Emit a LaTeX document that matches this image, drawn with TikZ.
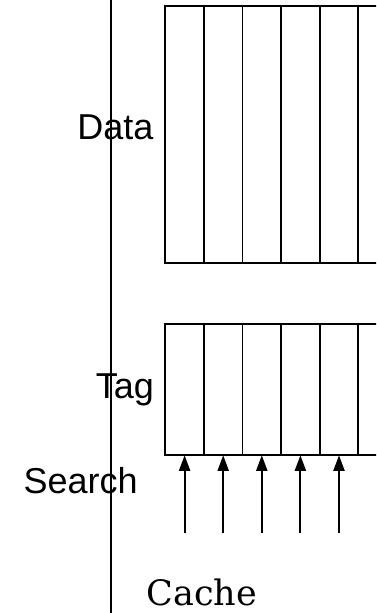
\documentclass[tikz,border=0pt]{standalone}
\usepackage{fontspec}
\setmainfont{Liberation Sans}
\newfontfamily\captionserif{DejaVu Serif}
\usetikzlibrary{arrows.meta}
\begin{document}
\begin{tikzpicture}[x=1pt,y=1pt,
  cellline/.style={line width=1.7pt},
  divider/.style={line width=2pt},
  searchline/.style={line width=1.9pt,-{Triangle[length=15.5pt,width=11pt]}},
  lbl/.style={inner sep=0pt,font=\fontsize{36}{40}\selectfont},
  caplbl/.style={inner sep=0pt,text depth=0pt,font=\captionserif\fontsize{35}{40}\selectfont}]
\useasboundingbox (0,0) rectangle (376,613);
\begin{scope}
\clip (0,0) rectangle (376,613);
% vertical divider
\coordinate (divtop) at (110.7,613);
\coordinate (divbot) at (110.7,0);
\draw[divider] (divbot) -- (divtop);
% data array
\draw[cellline] (400,607.3) -- (165.3,607.3) -- (165.3,350) -- (400,350);
\foreach \i in {1,...,5}
  \draw[cellline] ({165.3+38.6*\i},607.3) -- ({165.3+38.6*\i},350);
% tag array
\draw[cellline] (400,289) -- (165.3,289) -- (165.3,157.7) -- (400,157.7);
\foreach \i in {1,...,5}
  \draw[cellline] ({165.3+38.6*\i},289) -- ({165.3+38.6*\i},157.7);
% search lines into the tag cells
\foreach \i in {0,...,4} {
  \coordinate (s\i) at ({184.6+38.6*\i},80);
  \coordinate (t\i) at ({184.6+38.6*\i},157.7);
  \draw[searchline] (s\i) -- (t\i);
}
\end{scope}
% labels
\node[lbl,anchor=base east] (data) at (153.7,473) {Data};
\node[lbl,anchor=base east] (tag) at (154,214.7) {Tag};
\node[lbl,anchor=base west] (search) at (23.3,119.7) {Search};
\node[caplbl,anchor=base west] (cache) at (146.5,7) {Cache};
\end{tikzpicture}
\end{document}
